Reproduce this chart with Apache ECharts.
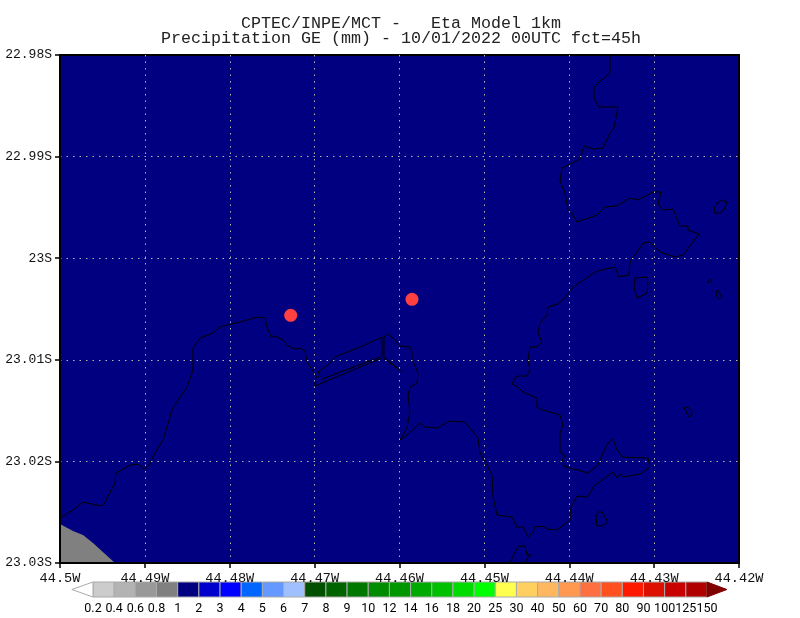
<!DOCTYPE html>
<html><head><meta charset="utf-8">
<style>html,body{margin:0;padding:0;background:#fff}#c{width:800px;height:618px}</style>
<script src="https://cdn.jsdelivr.net/npm/echarts@6/dist/echarts.min.js"></script>
</head><body><div id="c"></div>
<script>
const titleLines = ['CPTEC/INPE/MCT -   Eta Model 1km','Precipitation GE (mm) - 10/01/2022 00UTC fct=45h'];
// all geography as [degrees west, degrees south]
const rainSpots = [[44.47282,23.00562],[44.45853,23.00405]];
const terrain = [[44.5,23.02616],[44.49847,23.02685],[44.49729,23.02725],[44.49611,23.02803],[44.49352,23.03]];
const coastWest = [[44.5,23.02557],[44.49847,23.02479],[44.49729,23.024],[44.49623,23.0242],[44.49505,23.02439],[44.4947,23.0241],[44.49446,23.0236],[44.49352,23.02213],[44.4934,23.02114],[44.49175,23.02036],[44.49081,23.02026],[44.4901,23.02075],[44.48951,23.02036],[44.48881,23.01917],[44.48786,23.0179],[44.4868,23.01494],[44.48586,23.01366],[44.48504,23.01268],[44.48433,23.01101],[44.48433,23.00884],[44.48351,23.00786],[44.48197,23.00736],[44.48115,23.00677],[44.47879,23.00628],[44.47667,23.00579],[44.47585,23.00589],[44.47561,23.00677],[44.47514,23.00776],[44.47467,23.00766],[44.47373,23.00805],[44.47314,23.00864],[44.47231,23.00894],[44.47161,23.00884],[44.47113,23.00914],[44.4709,23.01022],[44.47019,23.0111],[44.46972,23.01179],[44.46937,23.0115],[44.4696,23.0112],[44.46819,23.01032],[44.4676,23.00973],[44.46465,23.00874],[44.46206,23.00776],[44.46206,23.00973]];
const bridgeA = [[44.46996,23.01199],[44.46996,23.01258],[44.46206,23.00982]];
const bridgeB = [[44.46913,23.01189],[44.4623,23.00973]];
const bridgeC = [[44.45971,23.0112],[44.46183,23.00973]];
const bridgeD = [[44.46194,23.00982],[44.45994,23.01101]];
const coastEast = [[44.46183,23.00973],[44.46183,23.00776],[44.46136,23.00746],[44.46077,23.00786],[44.45994,23.00864],[44.45876,23.00874],[44.45853,23.00923],[44.45853,23.01002],[44.45782,23.0112],[44.45794,23.01229],[44.45876,23.01268],[44.459,23.01347],[44.45876,23.01514],[44.45912,23.01671],[44.45994,23.0179],[44.45912,23.0174],[44.45758,23.01622],[44.457,23.01662],[44.45558,23.01671],[44.45405,23.01603],[44.45228,23.01612],[44.45075,23.0177],[44.45052,23.01917],[44.44969,23.02036],[44.4491,23.02134],[44.44898,23.02351],[44.44851,23.02528],[44.44675,23.02547],[44.44616,23.02646],[44.44545,23.02646],[44.44486,23.02744],[44.44427,23.02695],[44.44404,23.02646],[44.44321,23.02636],[44.4425,23.02666],[44.44144,23.02675],[44.43991,23.02577],[44.43979,23.02449],[44.43909,23.02341],[44.43791,23.02351],[44.43697,23.02232],[44.43661,23.02213],[44.43485,23.02105],[44.43437,23.02164],[44.43402,23.02124],[44.43367,23.02154],[44.43166,23.02124],[44.43049,23.02055],[44.43072,23.01967],[44.43367,23.01957],[44.43437,23.01888],[44.43485,23.0178],[44.43543,23.01819],[44.43602,23.01917],[44.43661,23.02036],[44.43779,23.02114],[44.43897,23.02085],[44.4405,23.02055],[44.44085,23.01986],[44.4405,23.01947],[44.44109,23.01908],[44.44109,23.01721],[44.44074,23.01642],[44.44109,23.01543],[44.44309,23.01494],[44.4438,23.01465],[44.4438,23.01376],[44.44545,23.01317],[44.44604,23.01268],[44.44675,23.01238],[44.44639,23.01179],[44.44604,23.0116],[44.44498,23.0116],[44.44462,23.01101],[44.44486,23.01002],[44.44462,23.00874],[44.4438,23.00874],[44.44321,23.00825],[44.44368,23.00736],[44.44345,23.00638],[44.44262,23.00559],[44.4425,23.0048],[44.44133,23.00451],[44.4405,23.00392],[44.43956,23.00284],[44.43673,23.00126],[44.43461,23.00087],[44.43414,23.00185],[44.43296,23.00165],[44.43284,23.00038],[44.43131,22.9985],[44.43049,22.99841],[44.42931,22.99939],[44.42754,22.99988],[44.4266,22.99969],[44.42471,22.99762],[44.42601,22.99723],[44.42601,22.99683],[44.42695,22.99683],[44.42778,22.99516],[44.42895,22.99526],[44.42954,22.99467],[44.42919,22.99348],[44.43013,22.99348],[44.4319,22.99427],[44.43284,22.99408],[44.43437,22.99486],[44.43579,22.99496],[44.43673,22.99575],[44.43909,22.99644],[44.43968,22.99555],[44.44015,22.99526],[44.4405,22.99358],[44.44109,22.9924],[44.44085,22.99112],[44.43873,22.99024],[44.43826,22.98896],[44.4372,22.98925],[44.43602,22.98915],[44.4352,22.98768],[44.43473,22.98719],[44.43426,22.98512],[44.4365,22.98512],[44.43708,22.98423],[44.43708,22.98315],[44.4365,22.98266],[44.43614,22.98246],[44.4352,22.98177],[44.4352,22.98]];
const isletA = [[44.42295,22.99506],[44.42259,22.99457],[44.422,22.99427],[44.42141,22.99447],[44.42177,22.99526],[44.42224,22.99555],[44.42283,22.99555],[44.42295,22.99506]];
const isletB = [[44.43225,23.00195],[44.43084,23.00185],[44.43072,23.00244],[44.43084,23.00343],[44.43202,23.00392],[44.43237,23.00284],[44.43225,23.00195]];
const isletC = [[44.42377,23.00234],[44.42342,23.00205],[44.42318,23.00225],[44.42354,23.00244],[44.42377,23.00234]];
const isletD = [[44.42271,23.00333],[44.42247,23.00313],[44.422,23.00382],[44.42236,23.00402],[44.42259,23.00382],[44.42271,23.00333]];
const isletE = [[44.42648,23.01475],[44.42601,23.01465],[44.42554,23.01504],[44.42554,23.01543],[44.42589,23.01563],[44.42648,23.01475]];
const isletF = [[44.43685,23.02547],[44.43661,23.02498],[44.43614,23.02498],[44.43543,23.02597],[44.43614,23.02636],[44.43673,23.02636],[44.43685,23.02547]];
const isletG = [[44.44698,23.03],[44.44604,23.02833],[44.44521,23.02833],[44.44498,23.02922],[44.44451,23.02922],[44.44498,23.02951],[44.44498,23.03]];
const scaleLabels = ['0.2','0.4','0.6','0.8','1','2','3','4','5','6','7','8','9','10','12','14','16','18','20','25','30','40','50','60','70','80','90','100','125','150'];
const scaleColors = ['#cccccc','#b3b3b3','#999999','#808080','#000080','#0000cc','#0000ff','#0066ff','#6699ff','#a0bfff','#005000','#006400','#007800','#008c00','#009600','#00aa00','#00c000','#00dc00','#00ff00','#ffff50','#ffd060','#ffb860','#ff9850','#ff7040','#ff5020','#ff1800','#dd1000','#c80000','#b00000'];
const lowColor = '#ffffff', highColor = '#800000';

const shapes = [coastWest,coastEast,bridgeA,bridgeB,bridgeC,bridgeD,isletA,isletB,isletC,isletD,isletE,isletF,isletG];
const mono = '"Liberation Mono","DejaVu Sans Mono",monospace';
const narrow = 'Roboto,"Liberation Sans",sans-serif';

const chart = echarts.init(document.getElementById('c'),null,{renderer:'canvas'});
chart.setOption({
  animation:false,
  backgroundColor:'#fff',
  title:{left:396,textAlign:'center',top:11,text:titleLines.join('\n'),
    textStyle:{fontFamily:mono,fontSize:16.67,fontWeight:'normal',color:'#222',lineHeight:15}},
  grid:[
    {left:60,right:61,top:55,height:508,show:true,backgroundColor:'#000080',borderColor:'#000',borderWidth:2,z:0},
    {left:93,width:614,top:582,height:15}
  ],
  xAxis:[
    {gridIndex:0,type:'value',inverse:true,min:44.42,max:44.5,interval:0.01,position:'bottom',z:6,
     axisLine:{onZero:false,lineStyle:{color:'#000',width:2}},
     axisTick:{length:5,lineStyle:{color:'#000',width:1.5}},
     axisLabel:{formatter:v=>v+'W',fontFamily:mono,fontSize:13.6,color:'#111',margin:8},
     splitLine:{show:true,showMinLine:false,showMaxLine:false,lineStyle:{color:'#b8b8a8',width:1,type:[1.5,5]}}},
    {gridIndex:1,type:'value',min:0,max:29,interval:1,
     axisLine:{show:false},axisTick:{show:false},splitLine:{show:false},
     axisLabel:{formatter:(v,i)=>scaleLabels[i],fontFamily:narrow,fontSize:12.5,color:'#000',margin:5}}
  ],
  yAxis:[
    {gridIndex:0,type:'value',inverse:true,min:22.98,max:23.03,interval:0.01,position:'left',z:6,
     axisLine:{onZero:false,lineStyle:{color:'#000',width:2}},
     axisTick:{length:5,lineStyle:{color:'#000',width:1.5}},
     axisLabel:{formatter:v=>v+'S',fontFamily:mono,fontSize:13,color:'#111',margin:8},
     splitLine:{show:true,showMinLine:false,showMaxLine:false,lineStyle:{color:'#b8b8a8',width:1,type:[1.5,5]}}},
    {gridIndex:1,type:'value',min:0,max:1,show:false}
  ],
  series:[
    {type:'line',xAxisIndex:0,yAxisIndex:0,data:terrain,symbol:'none',z:1,
     lineStyle:{width:0},areaStyle:{color:'#808080',opacity:1,origin:'end'}},
    ...shapes.map(s=>({type:'line',xAxisIndex:0,yAxisIndex:0,data:s,symbol:'none',z:3,
      lineStyle:{color:'#000',width:1},silent:true})),
    {type:'scatter',xAxisIndex:0,yAxisIndex:0,data:rainSpots,symbol:'circle',symbolSize:13,z:4,
     itemStyle:{color:'#ff4040',opacity:1}},
    {type:'custom',xAxisIndex:1,yAxisIndex:1,clip:false,z:3,
     data:scaleColors.map((c,i)=>[i]),
     renderItem:(p,api)=>{
       const i=api.value(0), a=api.coord([i,1]), b=api.coord([i+1,0]);
       return {type:'rect',shape:{x:a[0],y:a[1],width:b[0]-a[0],height:b[1]-a[1]},
         style:{fill:scaleColors[i],stroke:'#aaaaaa',lineWidth:1}};
     }},
    {type:'custom',xAxisIndex:1,yAxisIndex:1,clip:false,z:3,
     data:[[-1,0],[29.94,29]],
     renderItem:(p,api)=>{
       const tip=api.coord([api.value(0),0.5]), t=api.coord([api.value(1),1]), b=api.coord([api.value(1),0]);
       const fill=p.dataIndex===0?lowColor:highColor;
       return {type:'polygon',shape:{points:[tip,t,b]},
         style:{fill,stroke:p.dataIndex===0?'#aaaaaa':highColor,lineWidth:1}};
     }}
  ]
});
</script></body></html>
